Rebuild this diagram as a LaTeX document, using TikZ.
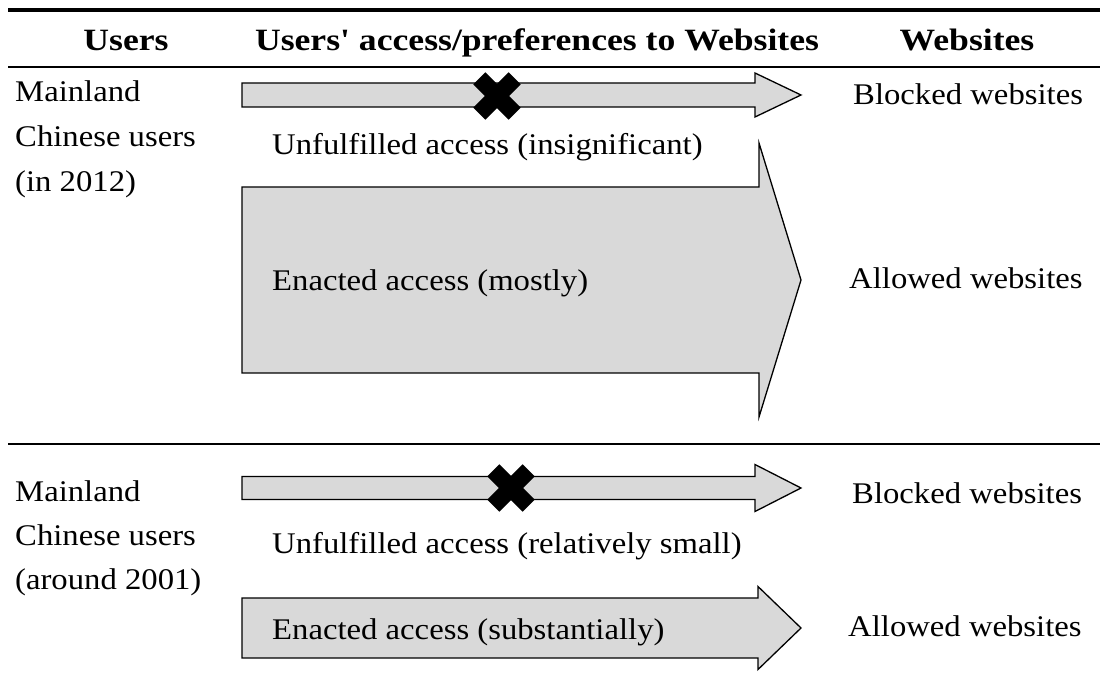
\documentclass[tikz,border=0pt]{standalone}
\usepackage{fontspec}
\setmainfont{Liberation Serif}[FakeStretch=1.09]
\newfontfamily\headfont{Liberation Serif}[FakeStretch=1.15]
\definecolor{arrowgray}{HTML}{D9D9D9}
\tikzset{
  rulethick/.style={line width=4pt},
  rulethin/.style={line width=2.6pt},
  flow/.style={fill=arrowgray, draw=black, line width=1.3pt, line join=miter},
  txt/.style={font=\fontsize{30}{36}\selectfont, inner sep=0pt, anchor=base west},
  colhead/.style={font=\headfont\bfseries\fontsize{31}{36}\selectfont, inner sep=0pt, anchor=base},
  blockmark/.style={fill=black},
}
% block arrow: left x, head base x, tip x, centre y, shaft half-height, head half-height
\newcommand\flowarrow[6]{%
  \draw[flow] (#1,#4-#5) -- (#2,#4-#5) -- (#2,#4-#6) -- (#3,#4)
    -- (#2,#4+#6) -- (#2,#4+#5) -- (#1,#4+#5) -- cycle;}
% heavy cross marking a blocked path
\newcommand\blockcross[2]{%
  \fill[blockmark, rotate around={45:(#1,#2)}] (#1-25,#2-8.5) rectangle (#1+25,#2+8.5);
  \fill[blockmark, rotate around={-45:(#1,#2)}] (#1-25,#2-8.5) rectangle (#1+25,#2+8.5);}
\begin{document}
\begin{tikzpicture}[x=1pt,y=-1pt]
\useasboundingbox (0,0) rectangle (1100,700);

% table rules
\draw[rulethick] (8,10) -- (1100,10);
\draw[rulethin] (8,67) -- (1100,67);
\draw[rulethin] (8,444) -- (1100,444);

% column headings
\node[colhead] (hUsers) at (126,51) {Users};
\node[colhead] (hAccess) at (537,51) {Users' access/preferences to Websites};
\node[colhead] (hSites) at (967,51) {Websites};

% 2012 block
\node[txt] (u1a) at (15,102) {Mainland};
\node[txt] (u1b) at (15,147) {Chinese users};
\node[txt] (u1c) at (15,192) {(in 2012)};

\flowarrow{242}{755}{801}{95}{12}{22}
\blockcross{497}{96}
\node[txt] (un1) at (272,155) {Unfulfilled access (insignificant)};
\flowarrow{242}{759}{801}{280}{93}{137}
\node[txt] (en1) at (272,291) {Enacted access (mostly)};

\node[txt] (bl1) at (853,105) {Blocked websites};
\node[txt] (al1) at (849,289) {Allowed websites};

% 2001 block
\node[txt] (u2a) at (15,501) {Mainland};
\node[txt] (u2b) at (15,545) {Chinese users};
\node[txt] (u2c) at (15,589) {(around 2001)};

\flowarrow{242}{755}{801}{488}{11.5}{23.5}
\blockcross{511}{488}
\node[txt] (un2) at (272,553) {Unfulfilled access (relatively small)};
\flowarrow{242}{758}{801}{628}{30}{41.5}
\node[txt] (en2) at (272,639) {Enacted access (substantially)};

\node[txt] (bl2) at (852,503) {Blocked websites};
\node[txt] (al2) at (848,636) {Allowed websites};
\end{tikzpicture}
\end{document}
